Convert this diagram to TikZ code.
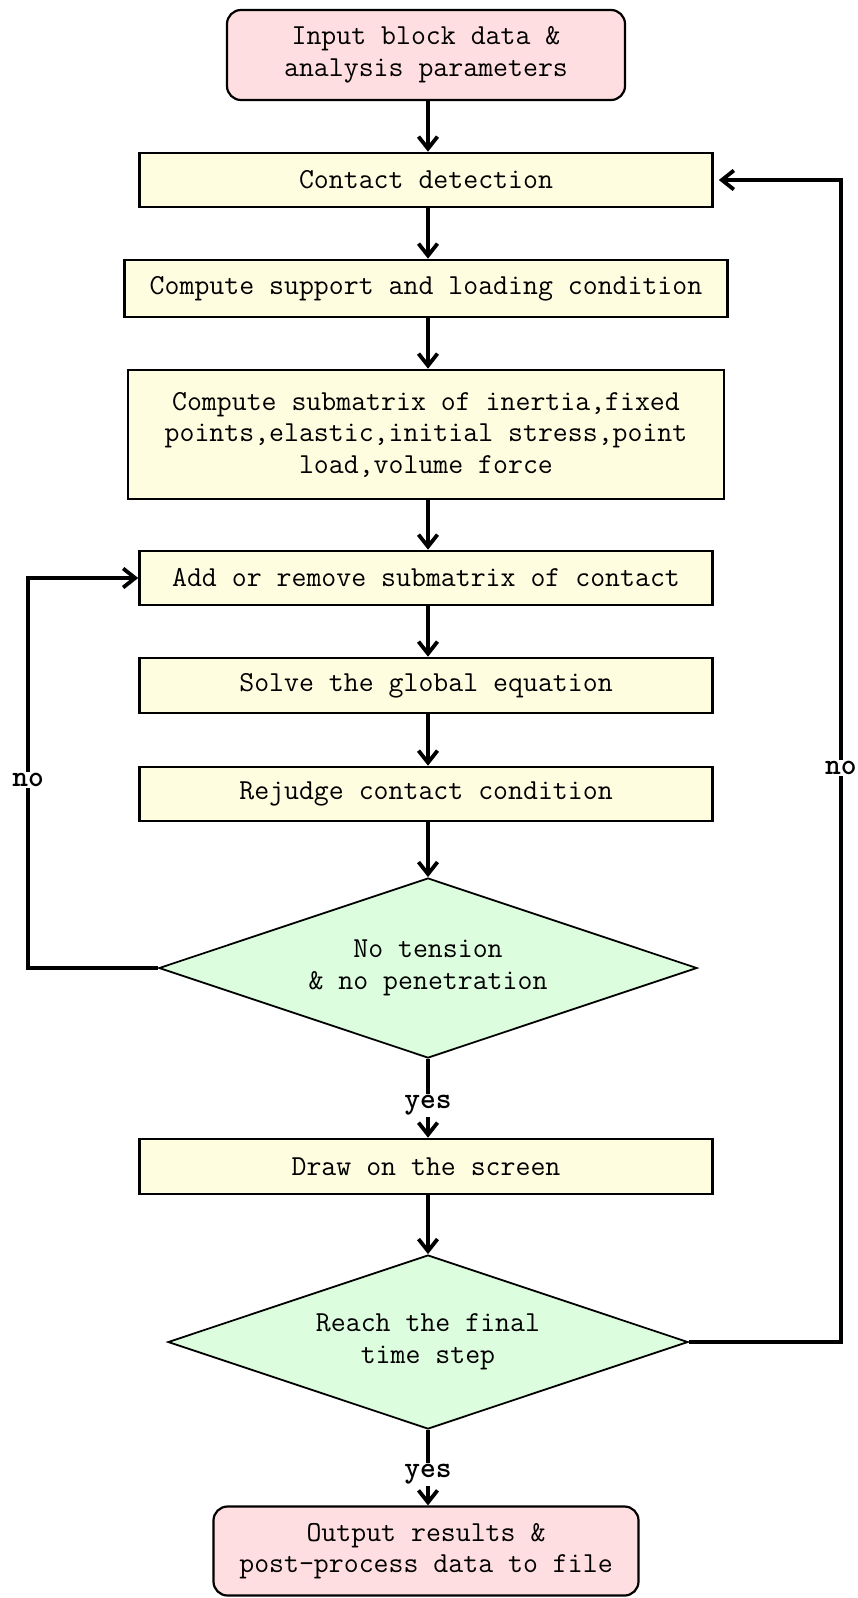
\documentclass[tikz,border=0pt]{standalone}
\usetikzlibrary{shapes.geometric,arrows.meta}
\definecolor{termfill}{HTML}{FFDEE1}
\definecolor{procfill}{HTML}{FFFDE0}
\definecolor{decfill}{HTML}{DDFDDF}
\tikzset{
  txt/.style={font=\ttfamily\fontsize{29}{31.5}\selectfont, align=center, inner sep=0pt},
  proc/.style={txt, draw, line width=2.6pt, fill=procfill},
  term/.style={txt, draw, line width=2.2pt, fill=termfill, rounded corners=14pt},
  dec/.style={txt, diamond, aspect=3, draw, line width=1.8pt, fill=decfill},
  arr/.style={line width=3.8pt, -{Straight Barb[length=12pt,width=19pt,line width=3.8pt]}},
  lbl/.style={font=\ttfamily\bfseries\fontsize{30}{32}\selectfont, fill=white, inner sep=1.5pt, yshift=-7pt}
}
\begin{document}
\begin{tikzpicture}[x=1pt,y=-1pt]
\useasboundingbox (0,0) rectangle (858,1598);
\node[term, minimum width=398pt, minimum height=90pt] (start) at (426,55) {Input block data \&\\analysis parameters};
\node[proc, minimum width=573pt, minimum height=54pt] (contact) at (426,180) {Contact detection};
\node[proc, minimum width=603pt, minimum height=57pt] (support) at (426,288.5) {Compute support and loading condition};
\node[proc, minimum width=596pt, minimum height=129pt] (sub) at (426,434.5) {Compute submatrix of inertia,fixed\\points,elastic,initial stress,point\\load,volume force};
\node[proc, minimum width=573pt, minimum height=54pt] (add) at (426,578) {Add or remove submatrix of contact};
\node[proc, minimum width=573pt, minimum height=55pt] (solve) at (426,685.5) {Solve the global equation};
\node[proc, minimum width=573pt, minimum height=54pt] (rejudge) at (426,794) {Rejudge contact condition};
\node[dec, minimum width=538pt, minimum height=180pt] (d1) at (428,968) {No tension\\\& no penetration};
\node[proc, minimum width=573pt, minimum height=55pt] (draw) at (426,1166.5) {Draw on the screen};
\node[dec, minimum width=520pt, minimum height=174pt] (d2) at (428,1342) {Reach the final\\time step};
\node[term, minimum width=425pt, minimum height=89pt] (out) at (426,1551) {Output results \&\\post-process data to file};

\draw[arr] (start.south -| 428,0) -- (contact.north -| 428,0);
\draw[arr] (contact.south -| 428,0) -- (support.north -| 428,0);
\draw[arr] (support.south -| 428,0) -- (sub.north -| 428,0);
\draw[arr] (sub.south -| 428,0) -- (add.north -| 428,0);
\draw[arr] (add.south -| 428,0) -- (solve.north -| 428,0);
\draw[arr] (solve.south -| 428,0) -- (rejudge.north -| 428,0);
\draw[arr] (rejudge.south -| d1.north) -- (d1.north);
\draw[arr] (d1.south) -- node[lbl]{yes} (draw.north -| d1.south);
\draw[arr] (draw.south -| d2.north) -- (d2.north);
\draw[arr] (d2.south) -- node[lbl]{yes} (out.north -| d2.south);
\draw[arr] (d1.west) -- ++(-130,0) coordinate (lc) |- node[lbl, pos=0.25]{no} (add.west);
\draw[arr, shorten >=5pt] (d2.east) -- ++(152,0) coordinate (rc) |- node[lbl, pos=0.25]{no} (contact.east);
\end{tikzpicture}
\end{document}
